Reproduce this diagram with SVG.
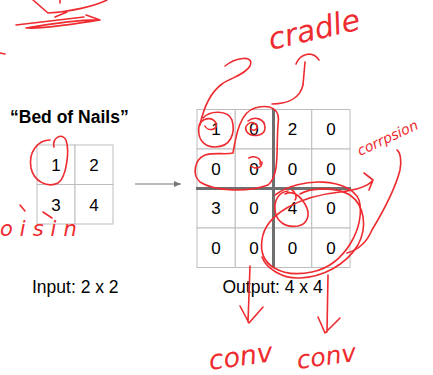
<svg xmlns="http://www.w3.org/2000/svg" width="433" height="375" viewBox="0 0 433 375">
<style>
.cell{fill:#fff;stroke:#bdbdbd;stroke-width:1}
.num{font-family:"Liberation Sans",Arial,sans-serif;font-size:17px;fill:#000;text-anchor:middle}
.lbl{font-family:"Liberation Sans",Arial,sans-serif;font-size:17.5px;fill:#000}
.thick{stroke:#6f6f6f;stroke-width:3}
.ink{fill:none;stroke:#ee2b30;stroke-width:1.6;stroke-linecap:round;stroke-linejoin:round}
.hand{font-family:"DejaVu Sans",sans-serif;font-style:italic;fill:#ee2b30;font-weight:200}
</style>
<defs>
<marker id="ah" markerWidth="8" markerHeight="8" refX="7" refY="4" orient="auto" markerUnits="userSpaceOnUse">
<path d="M0,1 L7,4 L0,7 Z" fill="#777"/>
</marker>
</defs>
<rect width="433" height="375" fill="#fff"/>

<g id="title">
<text x="10" y="123" font-family="Liberation Sans,Arial,sans-serif" font-weight="bold" font-size="17.5" fill="#000">“Bed of Nails”</text>
</g>

<g id="input-grid">
<rect class="cell" x="37" y="145" width="38" height="39.5"/>
<rect class="cell" x="75" y="145" width="38" height="39.5"/>
<rect class="cell" x="37" y="184.5" width="38" height="39.5"/>
<rect class="cell" x="75" y="184.5" width="38" height="39.5"/>
<text class="num" x="56" y="171">1</text>
<text class="num" x="94" y="171">2</text>
<text class="num" x="56" y="210.5">3</text>
<text class="num" x="94" y="210.5">4</text>
</g>

<g id="output-grid">
<g class="cells">
<rect class="cell" x="197" y="109.5" width="38.25" height="39.5"/>
<rect class="cell" x="235.25" y="109.5" width="38.25" height="39.5"/>
<rect class="cell" x="273.5" y="109.5" width="38.25" height="39.5"/>
<rect class="cell" x="311.75" y="109.5" width="38.25" height="39.5"/>
<rect class="cell" x="197" y="149" width="38.25" height="39.5"/>
<rect class="cell" x="235.25" y="149" width="38.25" height="39.5"/>
<rect class="cell" x="273.5" y="149" width="38.25" height="39.5"/>
<rect class="cell" x="311.75" y="149" width="38.25" height="39.5"/>
<rect class="cell" x="197" y="188.5" width="38.25" height="39.5"/>
<rect class="cell" x="235.25" y="188.5" width="38.25" height="39.5"/>
<rect class="cell" x="273.5" y="188.5" width="38.25" height="39.5"/>
<rect class="cell" x="311.75" y="188.5" width="38.25" height="39.5"/>
<rect class="cell" x="197" y="228" width="38.25" height="39.5"/>
<rect class="cell" x="235.25" y="228" width="38.25" height="39.5"/>
<rect class="cell" x="273.5" y="228" width="38.25" height="39.5"/>
<rect class="cell" x="311.75" y="228" width="38.25" height="39.5"/>
</g>
<line class="thick" x1="196" y1="188.5" x2="351" y2="188.5"/>
<line class="thick" x1="273.5" y1="109" x2="273.5" y2="268"/>
<text class="num" x="216" y="135">1</text>
<text class="num" x="254" y="135">0</text>
<text class="num" x="292.5" y="135">2</text>
<text class="num" x="331" y="135">0</text>
<text class="num" x="216" y="174.5">0</text>
<text class="num" x="254" y="174.5">0</text>
<text class="num" x="292.5" y="174.5">0</text>
<text class="num" x="331" y="174.5">0</text>
<text class="num" x="216" y="214">3</text>
<text class="num" x="254" y="214">0</text>
<text class="num" x="292.5" y="214">4</text>
<text class="num" x="331" y="214">0</text>
<text class="num" x="216" y="253.5">0</text>
<text class="num" x="254" y="253.5">0</text>
<text class="num" x="292.5" y="253.5">0</text>
<text class="num" x="331" y="253.5">0</text>
</g>

<g id="labels">
<text class="lbl" x="32" y="293">Input: 2 x 2</text>
<text class="lbl" x="222.5" y="293">Output: 4 x 4</text>
</g>

<g id="connectors">
<line x1="135" y1="184" x2="181" y2="184" stroke="#777" stroke-width="1.2" marker-end="url(#ah)"/>
</g>

<g id="annotations">
<!-- top-left scribble -->
<path class="ink" d="M33,0 L48,13 C70,12 95,6 107,0 M60,0 L60,3 M55,17 L67,12 M16,25 L84,17 M26,28 C50,24 85,19 100,20 C80,23 45,29 28,28 M86,15 L100,20 M0,53 L5,54"/>
<!-- squiggle down to top-left circle -->
<path class="ink" d="M225,66 C235,58 255,54 250,66 C245,75 230,78 222,84 C211,92 204,106 200,125"/>
<!-- cradle arrow -->
<path class="ink" d="M272,104 C288,104 300,98 303,85 L305,62 M296,64 C300,54 312,50 319,60"/>
<text class="hand" x="271" y="50" font-size="30" transform="rotate(-13 271 50)">cradle</text>
<!-- circle around input 1 -->
<path class="ink" d="M54,147 C52,138 62,132 66,140 C70,152 66,178 58,183 C48,188 34,182 31,168 C28,152 38,140 50,140"/>
<path class="ink" d="M20,205 L25,211 M43,212 L52,218"/>
<text class="hand" x="0" y="236" font-size="21" letter-spacing="7">oisin</text>
<!-- circles top-left of output -->
<path class="ink" d="M203,118 C210,110 228,110 232,120 C236,134 230,147 215,147 C203,147 197,138 199,126 C201,118 212,116 216,123 C219,130 208,132 205,126"/>
<path class="ink" d="M233,153 C236,135 240,112 255,108 C270,104 281,108 278,125 C276,150 280,175 268,185 C250,192 215,192 200,182 C192,175 194,160 205,155 C215,152 225,155 233,153"/>
<path class="ink" d="M248,121 C254,116 265,118 265,128 C265,136 252,138 247,132 C243,126 250,120 256,124 C260,128 254,132 251,129"/>
<path class="ink" d="M249,158 C254,155 262,158 260,164 M251,166 C256,170 262,168 262,162"/>
<!-- loop around 4 -->
<path class="ink" d="M288,191 C279,192 274,200 275,210 C276,222 286,228 298,226 C308,224 311,214 305,204 C300,196 293,190 285,194 M292,190 C296,192 297,198 295,200"/>
<!-- big loops right-bottom -->
<path class="ink" d="M275,195 C300,176 350,178 359,200 C366,225 346,265 312,272 C282,278 258,266 262,240 C265,214 300,196 340,192 C356,190 368,186 372,181 M364,173 L373,180 L369,190"/>
<path class="ink" d="M262,257 C266,268 282,279 300,278 C322,277 345,266 358,245 C368,226 364,205 350,195 C335,186 310,188 300,194"/>
<path class="ink" d="M347,253 C358,250 366,244 372,230 C384,210 395,190 400,170 C402,160 400,152 397,150"/>
<text class="hand" x="360" y="156" font-size="14" transform="rotate(-25 360 156)">corrpsion</text>
<!-- arrows down to conv -->
<path class="ink" d="M250,266 L248,322 M240,306 L249,323 L263,307"/>
<path class="ink" d="M328,275 L327,332 M318,317 L325,333 L340,318"/>
<text class="hand" x="210" y="370" font-size="27" transform="rotate(-8 210 370)">conv</text>
<text class="hand" x="298" y="369" font-size="25" transform="rotate(-8 298 369)">conv</text>
</g>
</svg>
